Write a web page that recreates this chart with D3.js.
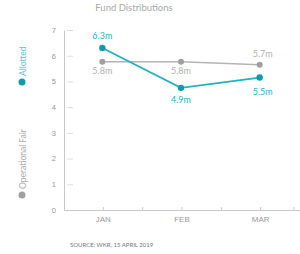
<!DOCTYPE html>
<html><head><meta charset="utf-8">
<script src="https://cdn.jsdelivr.net/npm/d3@7"></script>
<style>body{margin:0;background:#fff}svg{display:block;font-family:Lato,"Open Sans",sans-serif}</style>
</head><body><svg id="c" width="300" height="254"></svg>
<script>
const months = ["JAN","FEB","MAR"];
const allotted = [6.3, 4.75, 5.15];
const allottedLabels = ["6.3m","4.9m","5.5m"];
const fair = [5.77, 5.77, 5.65];
const fairLabels = ["5.8m","5.8m","5.7m"];
const yTicks = [0,1,2,3,4,5,6,7];
const title = "Fund Distributions";
const source = "SOURCE: WKR, 15 APRIL 2019";
const seriesNames = ["Allotted","Operational Fair"];

const svg = d3.select("#c");
const teal = "#1fb3bf", tealDot = "#0f9ca8", grey = "#b4b4b4", greyDot = "#a0a0a0";
const x = d3.scaleBand().domain(months).range([64, 300]);
const y = d3.scaleLinear().domain([0,7]).range([210, 30]);

svg.append("text").attr("x",134).attr("y",11).attr("text-anchor","middle")
  .attr("font-size",9.5).attr("fill","#a8a8a8").text(title);

// y axis
const ya = svg.append("g").attr("transform","translate(64,0)")
  .call(d3.axisLeft(y).tickValues(yTicks).tickSize(0).tickPadding(8).tickFormat(d3.format("d")));
ya.select(".domain").attr("stroke","#c8c8c8");
ya.selectAll("text").attr("font-size",7.5).attr("fill","#999");
ya.selectAll(".tick").append("line").attr("x1",3).attr("x2",9).attr("stroke","#ddd");

// x axis
const xa = svg.append("g").attr("transform","translate(0,210)")
  .call(d3.axisBottom(x).tickSize(0).tickPadding(6));
xa.select(".domain").attr("stroke","#c8c8c8");
xa.selectAll("text").attr("font-size",8).attr("fill","#999");
xa.selectAll(".tick").append("line").attr("y1",0).attr("y2",-3).attr("stroke","#ccc");
months.slice(1).concat(["end"]).forEach((m,i)=>{
  const bx = i < 2 ? x(m) : x.range()[1]-6;
  xa.append("line").attr("x1",bx).attr("x2",bx).attr("y1",0).attr("y2",-3).attr("stroke","#ccc");
});

const cx = m => x(m) + x.bandwidth()/2 - 1;
const line = d3.line().x((d,i)=>cx(months[i])).y(d=>y(d));

svg.append("path").datum(fair).attr("d",line).attr("fill","none").attr("stroke",grey).attr("stroke-width",1.5);
svg.append("path").datum(allotted).attr("d",line).attr("fill","none").attr("stroke",teal).attr("stroke-width",1.8);

svg.selectAll(".fd").data(fair).join("circle").attr("cx",(d,i)=>cx(months[i])).attr("cy",d=>y(d)).attr("r",3).attr("fill",greyDot);
svg.selectAll(".ad").data(allotted).join("circle").attr("cx",(d,i)=>cx(months[i])).attr("cy",d=>y(d)).attr("r",3.2).attr("fill",tealDot);

const fairOff = [12, 12, -8];
const allotOff = [-9, 15, 17];
svg.selectAll(".fl").data(fair).join("text").attr("x",(d,i)=>cx(months[i])+(i==2?3:0)).attr("y",(d,i)=>y(d)+fairOff[i])
  .attr("text-anchor","middle").attr("font-size",9).attr("fill","#b0b0b0").text((d,i)=>fairLabels[i]);
svg.selectAll(".al").data(allotted).join("text").attr("x",(d,i)=>cx(months[i])+(i==2?3:0)).attr("y",(d,i)=>y(d)+allotOff[i])
  .attr("text-anchor","middle").attr("font-size",9).attr("fill",teal).text((d,i)=>allottedLabels[i]);

// legend (rotated)
const lg = svg.append("g");
lg.append("circle").attr("cx",22).attr("cy",82).attr("r",3.5).attr("fill",tealDot);
lg.append("text").attr("transform","translate(25.5,76) rotate(-90)").attr("font-size",8.5).attr("fill","#5cc3cc").text(seriesNames[0]);
lg.append("circle").attr("cx",22).attr("cy",195).attr("r",3.5).attr("fill",greyDot);
lg.append("text").attr("transform","translate(25.5,189) rotate(-90)").attr("font-size",8.5).attr("fill","#aaa").text(seriesNames[1]);

svg.append("text").attr("x",70).attr("y",247).attr("font-size",6).attr("fill","#777").text(source);
</script></body></html>
